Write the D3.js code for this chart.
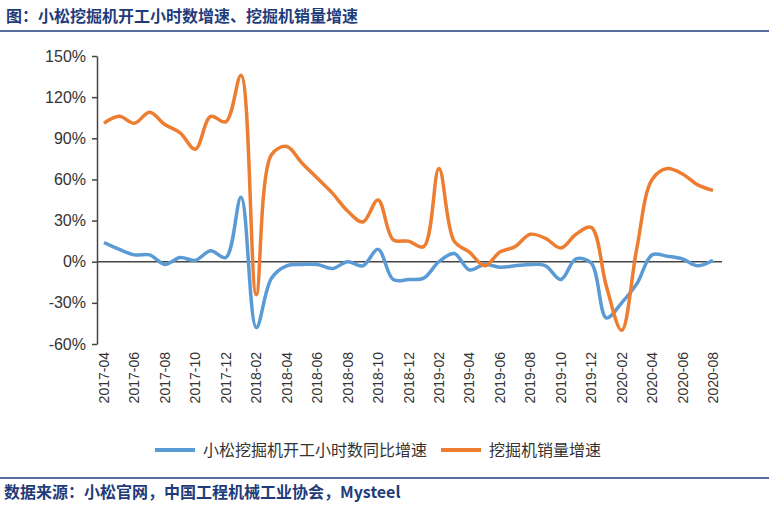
<!DOCTYPE html>
<html><head><meta charset="utf-8">
<script src="https://cdn.jsdelivr.net/npm/d3@7"></script>
<style>body{margin:0;background:#fff;font-family:"Noto Sans CJK SC","Noto Sans",sans-serif}</style>
</head><body><svg id="c" width="769" height="507"></svg>
<script>
const months=[];for(let y=2017,m=4;!(y===2020&&m>8);){months.push(y+"-"+String(m).padStart(2,"0"));m++;if(m>12){m=1;y++;}}
const hoursGrowth=[14,9,5,5,-2,3,1,8,3,47,-48,-12,-3,-2,-2,-5,0,-3,9,-13,-13,-12,0,6,-6,-2,-4,-3,-2,-3,-13,2,-1,-41,-30,-16,5,4,2,-3,1];
const salesGrowth=[101,106,101,109,100,94,82,106,102,136,-24,78,84,72,61,50,37,29,45,16,15,11,68,15,7,-3,7,11,20,17,10,20,25,-18,-50,10,60,68,64,56,52];
const yTicks=[-60,-30,0,30,60,90,120,150];
const seriesNames=["小松挖掘机开工小时数同比增速","挖掘机销量增速"];
const colors=["#5b9bd5","#ed7d31"];
const svg=d3.select("#c");
svg.append("text").attr("x",6).attr("y",22).text("图：小松挖掘机开工小时数增速、挖掘机销量增速").attr("fill","#1f3c7a").attr("font-weight","bold").attr("font-size",16);
svg.append("line").attr("x1",0).attr("x2",769).attr("y1",31).attr("y2",31).attr("stroke","#1f3c7a").attr("stroke-width",1.5);
svg.append("line").attr("x1",0).attr("x2",769).attr("y1",478).attr("y2",478).attr("stroke","#1f3c7a").attr("stroke-width",1.5);
svg.append("text").attr("x",4).attr("y",498).text("数据来源：小松官网，中国工程机械工业协会，Mysteel").attr("fill","#1f3c7a").attr("font-weight","bold").attr("font-size",16);
const x=d3.scalePoint().domain(months).range([104,713]);
const y=d3.scaleLinear().domain([-60,150]).range([344,56]);
const ya=svg.append("g").attr("transform","translate(97,0)").call(d3.axisLeft(y).tickValues(yTicks).tickFormat(d=>d+"%").tickSize(5).tickSizeOuter(0));
ya.selectAll("text").attr("font-size",16).attr("fill","#333").attr("font-family","Liberation Sans,Arial").attr("dx",-3);
ya.selectAll("line,path").attr("stroke","#444").attr("stroke-width",1.5);
svg.append("line").attr("x1",97).attr("x2",722).attr("y1",y(0)).attr("y2",y(0)).attr("stroke","#444").attr("stroke-width",1.5);
months.forEach((m,i)=>{if(i%2===0)svg.append("text").attr("transform",`translate(${x(m)+5},352) rotate(-90)`).attr("text-anchor","end").attr("font-size",14).attr("fill","#333").attr("font-family","Liberation Sans,Arial").text(m);});
const line=d3.line().x((d,i)=>x(months[i])).y(d=>y(d)).curve(d3.curveCatmullRom.alpha(0.5));
[hoursGrowth,salesGrowth].forEach((s,k)=>svg.append("path").attr("d",line(s)).attr("fill","none").attr("stroke",colors[k]).attr("stroke-width",3.5));
const lg=[[155,203],[441,489]];
seriesNames.forEach((n,k)=>{svg.append("line").attr("x1",lg[k][0]).attr("x2",lg[k][0]+40).attr("y1",450).attr("y2",450).attr("stroke",colors[k]).attr("stroke-width",4);
svg.append("text").attr("x",lg[k][1]).attr("y",456).text(n).attr("font-size",16).attr("fill","#333");});
</script></body></html>
